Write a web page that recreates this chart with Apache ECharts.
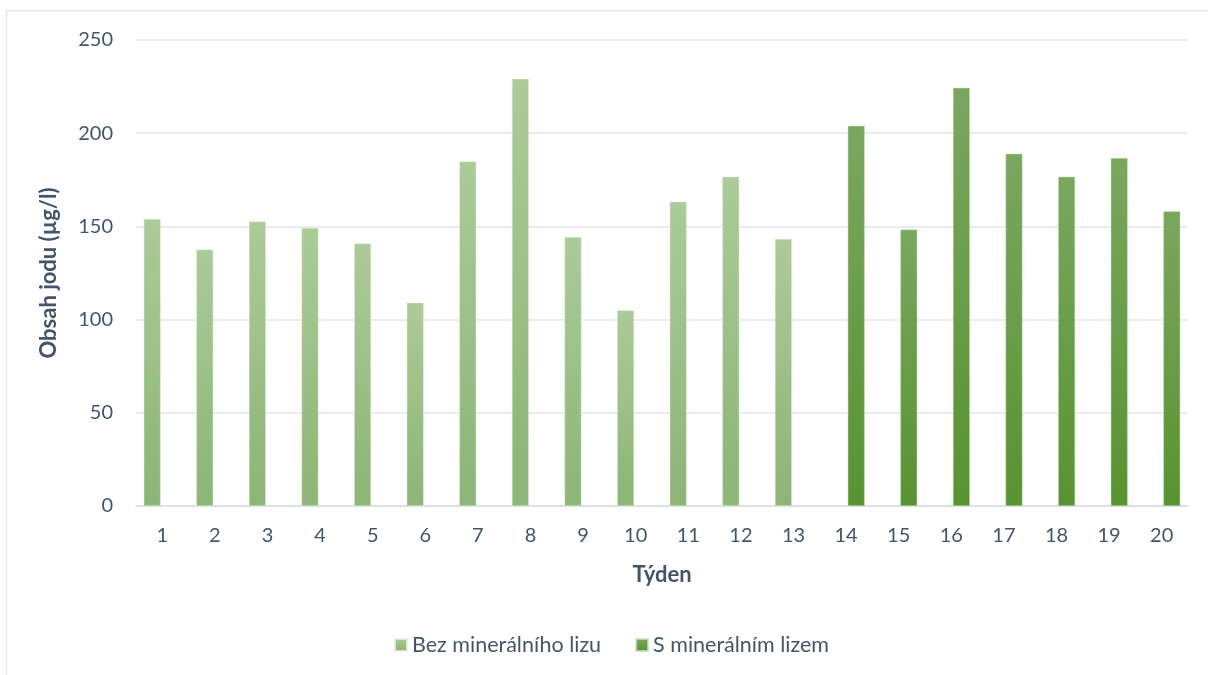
<!DOCTYPE html>
<html>
<head>
<meta charset="utf-8">
<script src="https://cdn.jsdelivr.net/npm/echarts@6/dist/echarts.min.js"></script>
<style>
html,body{margin:0;padding:0;background:#fff;}
#chart{width:1208px;height:675px;}
</style>
</head>
<body>
<div id="chart"></div>
<script>
const weeks = ['1','2','3','4','5','6','7','8','9','10','11','12','13','14','15','16','17','18','19','20'];
const bezLizu = [154, 137.6, 152.6, 149.2, 140.9, 109.1, 184.9, 229.2, 144.3, 105, 163.3, 176.7, 143.3, null, null, null, null, null, null, null];
const sLizem = [null, null, null, null, null, null, null, null, null, null, null, null, null, 204, 148.3, 224.4, 189, 176.7, 186.7, 158.1];
const seriesNames = ['Bez minerálního lizu', 'S minerálním lizem'];
const yAxisTitle = 'Obsah jodu (µg/l)';
const xAxisTitle = 'Týden';

const textColor = '#44546a';
const font = 'Lato, "Open Sans", sans-serif';

const chart = echarts.init(document.getElementById('chart'), null, {renderer: 'canvas'});
const lightGrad = new echarts.graphic.LinearGradient(0, 0, 0, 1, [
  {offset: 0, color: '#abcb98'},
  {offset: 1, color: '#8cb576'}
]);
const darkGrad = new echarts.graphic.LinearGradient(0, 0, 0, 1, [
  {offset: 0, color: '#7aa760'},
  {offset: 1, color: '#589331'}
]);
chart.setOption({
  animation: false,
  backgroundColor: '#fff',
  graphic: [
    {type: 'line', shape: {x1: 6.5, y1: 10.5, x2: 1208, y2: 10.5}, style: {stroke: '#e3e6ea', lineWidth: 1.5}, silent: true},
    {type: 'line', shape: {x1: 6.5, y1: 10.5, x2: 6.5, y2: 675}, style: {stroke: '#e3e6ea', lineWidth: 1.5}, silent: true}
  ],
  grid: {left: 136, right: 20, top: 40, bottom: 169, containLabel: false},
  legend: {
    data: seriesNames,
    left: 389,
    top: 629,
    itemWidth: 12,
    itemHeight: 12,
    itemGap: 34,
    icon: 'rect',
    textStyle: {color: textColor, fontSize: 21.5, fontFamily: font}
  },
  xAxis: {
    type: 'category',
    data: weeks,
    name: xAxisTitle,
    nameLocation: 'middle',
    nameGap: 58,
    nameTextStyle: {color: textColor, fontSize: 22, fontWeight: 'bold', fontFamily: font},
    axisLine: {show: true, lineStyle: {color: '#d9dde3', width: 1.5}},
    axisTick: {show: false},
    axisLabel: {color: textColor, fontSize: 20, fontFamily: font, margin: 20}
  },
  yAxis: {
    type: 'value',
    min: 0,
    max: 250,
    interval: 50,
    name: yAxisTitle,
    nameLocation: 'middle',
    nameGap: 76,
    nameRotate: 90,
    nameTextStyle: {color: textColor, fontSize: 22, fontWeight: 'bold', fontFamily: font},
    axisLine: {show: false},
    axisTick: {show: false},
    axisLabel: {color: textColor, fontSize: 20, fontFamily: font, margin: 23},
    splitLine: {lineStyle: {color: '#e2e5ea', width: 1.5}}
  },
  series: [
    {
      name: seriesNames[0],
      type: 'bar',
      data: bezLizu,
      barWidth: 17,
      barGap: '19%',
      itemStyle: {color: lightGrad, borderColor: 'rgba(230,240,225,0.8)', borderWidth: 0.6}
    },
    {
      name: seriesNames[1],
      type: 'bar',
      data: sLizem,
      barWidth: 17,
      barGap: '19%',
      itemStyle: {color: darkGrad, borderColor: 'rgba(200,225,190,0.8)', borderWidth: 0.6}
    }
  ]
});
</script>
</body>
</html>
